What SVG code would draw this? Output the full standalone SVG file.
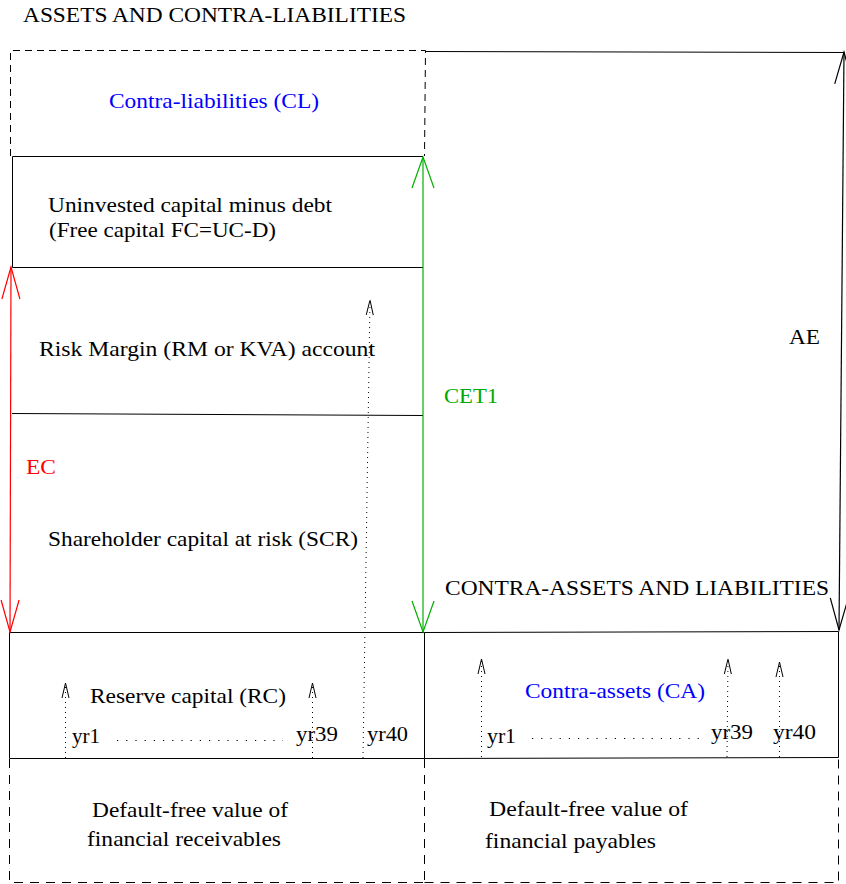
<svg xmlns="http://www.w3.org/2000/svg" width="846" height="884" viewBox="0 0 846 884" font-family="'Liberation Serif', 'DejaVu Serif', serif">
<style>
.t{font-family:'Liberation Serif','DejaVu Serif',serif;font-size:22px;fill:#000}
.blue{fill:#0000ff}.red{fill:#ff0000}.green{fill:#00a800}
.ln{fill:none;stroke:#000;stroke-width:1}
.dash1{fill:none;stroke:#000;stroke-width:1;stroke-dasharray:7 5}
.dash2{fill:none;stroke:#000;stroke-width:1;stroke-dasharray:9 7}
.dotv{fill:none;stroke:#000;stroke-width:1;stroke-dasharray:1 4}
.doth{fill:none;stroke:#000;stroke-width:1.2;stroke-dasharray:1.2 8}
</style>
<defs>
<marker id="hR" viewBox="-2 -12 36 24" markerWidth="36" markerHeight="24" refX="32" refY="0" orient="auto-start-reverse" markerUnits="userSpaceOnUse"><path d="M0,-9 L32,0 L0,9" fill="none" stroke="#ff0000" stroke-width="1.2"/></marker>
<marker id="hG" viewBox="-2 -13 36 26" markerWidth="36" markerHeight="26" refX="31" refY="0" orient="auto-start-reverse" markerUnits="userSpaceOnUse"><path d="M0,-11 L31,0 L0,11" fill="none" stroke="#00b000" stroke-width="1.2"/></marker>
<marker id="hK" viewBox="-2 -12 36 24" markerWidth="36" markerHeight="24" refX="32" refY="0" orient="auto-start-reverse" markerUnits="userSpaceOnUse"><path d="M0,-9 L32,0 L0,9" fill="none" stroke="#000" stroke-width="1.2"/></marker>
<marker id="hS" viewBox="-1 -5 17 10" markerWidth="17" markerHeight="10" refX="15" refY="0" orient="auto" markerUnits="userSpaceOnUse"><path d="M0,-3.5 L15,0 L0,3.5" fill="none" stroke="#000" stroke-width="1"/></marker>
</defs>

<g id="header" class="t">
<text x="23" y="22" textLength="383" lengthAdjust="spacingAndGlyphs">ASSETS AND CONTRA-LIABILITIES</text>
</g>

<g id="contra-liabilities" class="t">
<path class="dash1" d="M10.5,156 L10.5,50.5 L425.5,50.5 L424.5,156"/>
<text class="blue" x="109" y="108" textLength="210" lengthAdjust="spacingAndGlyphs">Contra-liabilities (CL)</text>
</g>

<g id="free-capital" class="t">
<path class="ln" d="M12.5,267.5 L12.5,156.5 L423,156.5 M12.5,267.5 L423,267.5"/>
<text x="48" y="212" textLength="284" lengthAdjust="spacingAndGlyphs">Uninvested capital minus debt</text>
<text x="49" y="237" textLength="227" lengthAdjust="spacingAndGlyphs">(Free capital FC=UC-D)</text>
</g>

<g id="risk-margin" class="t">
<text x="39" y="356" textLength="336" lengthAdjust="spacingAndGlyphs">Risk Margin (RM or KVA) account</text>
<path class="ln" d="M12,413.5 L423,415.5"/>
</g>

<g id="scr" class="t">
<text x="48" y="546" textLength="310" lengthAdjust="spacingAndGlyphs">Shareholder capital at risk (SCR)</text>
</g>

<g id="contra-assets-header" class="t">
<path class="ln" d="M425,51.5 L844,52.5"/>
<text x="445" y="595" textLength="384" lengthAdjust="spacingAndGlyphs">CONTRA-ASSETS AND LIABILITIES</text>
</g>

<g id="reserve-capital" class="t">
<path class="ln" d="M9.5,758.5 L9.5,632.5 L424.5,632.5 L424.5,758.5 Z"/>
<text x="90" y="703" textLength="196" lengthAdjust="spacingAndGlyphs">Reserve capital (RC)</text>
<text x="72" y="743" textLength="28" lengthAdjust="spacingAndGlyphs">yr1</text>
<text x="296" y="741" textLength="42" lengthAdjust="spacingAndGlyphs">yr39</text>
<text x="367" y="741" textLength="41" lengthAdjust="spacingAndGlyphs">yr40</text>
</g>

<g id="contra-assets" class="t">
<path class="ln" d="M424.5,632.5 L838.5,631.5 L838.5,757.5 L424.5,758.5"/>
<text class="blue" x="525" y="698" textLength="180" lengthAdjust="spacingAndGlyphs">Contra-assets (CA)</text>
<text x="487" y="743" textLength="29" lengthAdjust="spacingAndGlyphs">yr1</text>
<text x="711" y="739" textLength="42" lengthAdjust="spacingAndGlyphs">yr39</text>
<text x="773" y="739" textLength="43" lengthAdjust="spacingAndGlyphs">yr40</text>
</g>

<g id="receivables" class="t">
<path class="dash2" d="M9.5,759 L9.5,882.5 L424.5,882.5"/>
<path class="dash2" d="M424.5,759 L424.5,882"/>
<text x="92" y="817" textLength="196" lengthAdjust="spacingAndGlyphs">Default-free value of</text>
<text x="87" y="846" textLength="194" lengthAdjust="spacingAndGlyphs">financial receivables</text>
</g>

<g id="payables" class="t">
<path class="dash2" d="M424.5,882.5 L838.5,882.5 L838.5,758"/>
<text x="489" y="816" textLength="199" lengthAdjust="spacingAndGlyphs">Default-free value of</text>
<text x="485" y="848" textLength="171" lengthAdjust="spacingAndGlyphs">financial payables</text>
</g>

<g id="labels" class="t">
<text class="red" x="26" y="474" textLength="30" lengthAdjust="spacingAndGlyphs">EC</text>
<text class="green" x="444" y="403" textLength="54" lengthAdjust="spacingAndGlyphs">CET1</text>
<text x="789" y="344" textLength="31" lengthAdjust="spacingAndGlyphs">AE</text>
</g>

<g id="connectors">
<path d="M11,267 L10,632" fill="none" stroke="#ff0000" stroke-width="1.2" marker-start="url(#hR)" marker-end="url(#hR)"/>
<path d="M423,157 L423,632" fill="none" stroke="#00b000" stroke-width="1.2" marker-start="url(#hG)" marker-end="url(#hG)"/>
<path d="M844,52 L839,630" fill="none" stroke="#000" stroke-width="1.2" marker-start="url(#hK)" marker-end="url(#hK)"/>
<path class="dotv" d="M65.5,758 L65.5,683" marker-end="url(#hS)"/>
<path class="dotv" d="M312.5,758 L312.5,683" marker-end="url(#hS)"/>
<path class="dotv" d="M363,758 L370,300" marker-end="url(#hS)"/>
<path class="dotv" d="M481.5,757 L481.5,659" marker-end="url(#hS)"/>
<path class="dotv" d="M727,757 L728,659" marker-end="url(#hS)"/>
<path class="dotv" d="M779.5,757 L779.5,662" marker-end="url(#hS)"/>
<path class="doth" d="M117,740.5 L283,740.5"/>
<path class="doth" d="M532,738.5 L700,738.5"/>
</g>
</svg>
